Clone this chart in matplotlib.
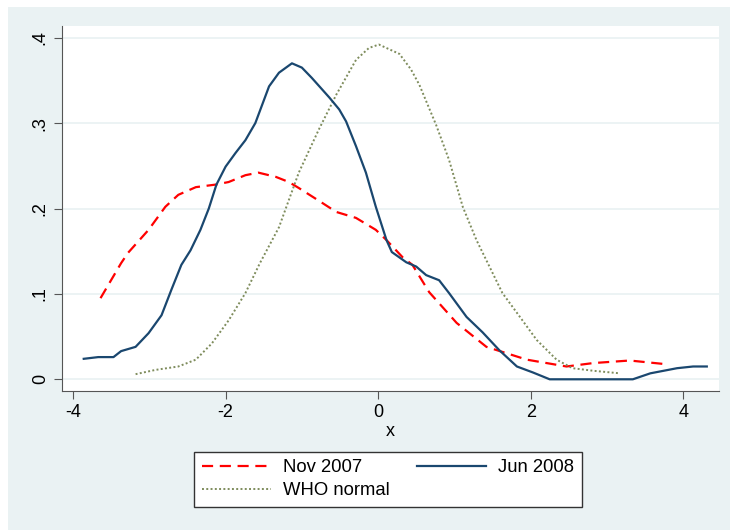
import matplotlib
matplotlib.use('Agg')
import matplotlib.pyplot as plt
from matplotlib.patches import Rectangle

plt.rcParams['font.family'] = ['Liberation Sans', 'DejaVu Sans']
plt.rcParams['axes.unicode_minus'] = False

# values
nov_x = [-3.64, -3.37, -3.28, -3.01, -2.79, -2.62, -2.39, -2.13, -1.96, -1.74, -1.57,
         -1.34, -1.17, -1.04, -0.74, -0.55, -0.29, -0.03, 0.11, 0.32, 0.45, 0.67,
         1.03, 1.42, 1.95, 2.47, 2.82, 3.30, 3.74]
nov_y = [0.095, 0.136, 0.148, 0.175, 0.202, 0.216, 0.225, 0.228, 0.231, 0.239, 0.242,
         0.237, 0.231, 0.224, 0.207, 0.196, 0.189, 0.175, 0.163, 0.143, 0.134, 0.102,
         0.066, 0.038, 0.023, 0.015, 0.019, 0.022, 0.018]

jun_x = [-3.86, -3.67, -3.47, -3.37, -3.18, -3.01, -2.84, -2.71, -2.58, -2.46, -2.33,
         -2.22, -2.12, -2.00, -1.87, -1.74, -1.61, -1.43, -1.30, -1.13, -1.00, -0.87,
         -0.64, -0.51, -0.42, -0.29, -0.16, -0.03, 0.11, 0.18, 0.37, 0.50, 0.63, 0.80,
         0.93, 1.16, 1.37, 1.59, 1.82, 2.03, 2.25, 2.80, 3.34, 3.57, 3.92, 4.13, 4.31]
jun_y = [0.024, 0.026, 0.026, 0.033, 0.038, 0.054, 0.075, 0.105, 0.134, 0.151, 0.175,
         0.200, 0.228, 0.249, 0.265, 0.280, 0.300, 0.343, 0.359, 0.370, 0.365, 0.353,
         0.330, 0.316, 0.302, 0.273, 0.242, 0.202, 0.163, 0.149, 0.137, 0.132, 0.122, 0.116,
         0.101, 0.073, 0.055, 0.034, 0.015, 0.008, 0.0, 0.0, 0.0, 0.007, 0.013, 0.015, 0.015]

who_x = [-3.18, -2.92, -2.62, -2.39, -2.18, -1.96, -1.74, -1.55, -1.30, -1.04, -0.78,
         -0.55, -0.29, -0.12, 0.01, 0.28, 0.43, 0.54, 0.76, 0.93, 1.11, 1.29, 1.46,
         1.63, 1.86, 2.08, 2.34, 2.55, 2.82, 3.17]
who_y = [0.006, 0.011, 0.015, 0.023, 0.042, 0.069, 0.101, 0.136, 0.178, 0.242, 0.292,
         0.333, 0.374, 0.388, 0.392, 0.381, 0.363, 0.345, 0.298, 0.257, 0.202, 0.163,
         0.132, 0.101, 0.073, 0.046, 0.023, 0.013, 0.010, 0.007]

bg = '#EAF2F3'
fig = plt.figure(figsize=(7.3, 5.3), dpi=100)
fig.patches.append(Rectangle((8 / 730, 0), 1, (530 - 7) / 530, transform=fig.transFigure,
                             facecolor=bg, edgecolor='none', zorder=-10))

ax = fig.add_axes([62 / 730, (530 - 391) / 530, 657 / 730, 365 / 530])
ax.set_xlim(-4.145, 4.47)
ax.set_ylim(-0.0137, 0.4137)

ax.plot(nov_x, nov_y, color='#FF0000', lw=1.6, dashes=(5, 3), label='Nov 2007')
ax.plot(who_x, who_y, color='#7E8C5C', lw=1.4, ls=(0, (1, 1.2)), label='WHO normal')
ax.plot(jun_x, jun_y, color='#1A476F', lw=1.6, label='Jun 2008')

ax.set_xticks([-4, -2, 0, 2, 4])
ax.set_yticks([0, 0.1, 0.2, 0.3, 0.4])
ax.set_yticklabels(['0', '.1', '.2', '.3', '.4'], rotation=90, va='center')
ax.grid(axis='y', color=bg, lw=1.3)
ax.set_axisbelow(True)
ax.spines['top'].set_visible(False)
ax.spines['right'].set_visible(False)
for s in ['left', 'bottom']:
    ax.spines[s].set_color('#555555')
ax.tick_params(direction='out', length=6, color='#555555', labelsize=13)
ax.set_xlabel('x', fontsize=13, labelpad=1)

leg = ax.legend(loc='upper center', bbox_to_anchor=(0.496, -0.166), ncol=2, fontsize=13.3,
                fancybox=False, edgecolor='#333333', framealpha=1, handlelength=3.74,
                handletextpad=0.65, columnspacing=1.5, labelspacing=0.35, borderaxespad=0)
leg.get_frame().set_linewidth(1.0)

fig.savefig('out.png', dpi=100)
